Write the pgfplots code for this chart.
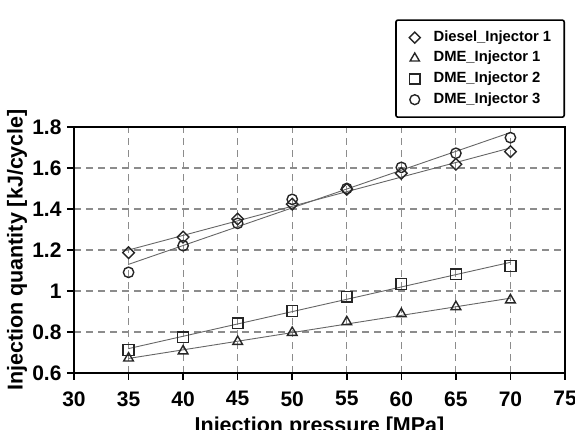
\documentclass[border=0pt]{standalone}
\usepackage{pgfplots}
\pgfplotsset{compat=1.18}
\usepackage{fontspec}
\setmainfont{Liberation Sans}
\begin{document}
\begin{tikzpicture}[x=1pt,y=1pt]
\useasboundingbox (0,0) rectangle (575,430);
\begin{axis}[
  at={(74pt,57pt)}, anchor=south west,
  scale only axis, width=491pt, height=246pt,
  xmin=30, xmax=75, ymin=0.6, ymax=1.8,
  xtick={30,35,40,45,50,55,60,65,70,75},
  ytick={0.6,0.8,1,1.2,1.4,1.6,1.8},
  xtick pos=bottom, ytick pos=left,
  tick align=outside, major tick length=7pt,
  tick style={line width=1.5pt, black},
  axis line style={line width=2.4pt, black},
  grid=major,
  major grid style={black!45, dash pattern=on 7pt off 5pt, line width=1.2pt},
  /pgf/number format/assume math mode=true,
  ticklabel style={font=\fontsize{21}{24}\selectfont\bfseries},
  xticklabel style={yshift=-8pt},
  yticklabel style={xshift=-2pt},
  xlabel={Injection pressure [MPa]},
  ylabel={Injection quantity [kJ/cycle]},
  xlabel style={at={(rel axis cs:0.5,0)}, anchor=north, inner sep=0pt, yshift=-44pt, font=\fontsize{21.5}{24}\selectfont\bfseries},
  ylabel style={at={(rel axis cs:0,0.5)}, anchor=center, inner sep=0pt, yshift=57pt, font=\fontsize{21.5}{24}\selectfont\bfseries},
  legend cell align=left,
  legend style={at={(rel axis cs:1,1)}, anchor=south east, yshift=9pt,
    draw=black, line width=1.6pt, rounded corners=2pt,
    font=\fontsize{14.8}{16}\selectfont\bfseries,
    inner xsep=11pt, inner ysep=8pt, row sep=1.7pt, column sep=9pt,
    nodes={inner sep=2pt, text height=11pt, text depth=4pt}},
  lgd/.style={legend image code/.code={\path (0pt,-5pt) (14pt,5pt); \draw[##1, every mark/.append style={scale=0.95}] plot coordinates {(7pt,0pt)};}},
]
% fit lines
\addplot[forget plot, black!60, line width=0.9pt] coordinates {(35,1.200) (70,1.698)};
\addplot[forget plot, black!60, line width=0.9pt] coordinates {(35,0.671) (70,0.965)};
\addplot[forget plot, black!60, line width=0.9pt] coordinates {(35,0.719) (70,1.140)};
\addplot[forget plot, black!60, line width=0.9pt] coordinates {(35,1.130) (70,1.773)};
% data
\addplot[only marks, lgd, mark=square, mark size=4.1pt, mark options={rotate=45, draw=black!85, line width=1.4pt}]
  coordinates {(35,1.187) (40,1.263) (45,1.351) (50,1.424) (55,1.496) (60,1.574) (65,1.618) (70,1.680)};
\addlegendentry{Diesel\_Injector 1}
\addplot[only marks, lgd, mark=triangle, mark size=5.6pt, mark options={draw=black!85, line width=1.4pt}]
  coordinates {(35,0.672) (40,0.707) (45,0.753) (50,0.797) (55,0.849) (60,0.888) (65,0.923) (70,0.956)};
\addlegendentry{DME\_Injector 1}
\addplot[only marks, lgd, mark=square, mark size=5.4pt, mark options={draw=black!85, line width=1.4pt}]
  coordinates {(35,0.712) (40,0.774) (45,0.842) (50,0.902) (55,0.972) (60,1.034) (65,1.081) (70,1.122)};
\addlegendentry{DME\_Injector 2}
\addplot[only marks, lgd, mark=o, mark size=5.2pt, mark options={draw=black!85, line width=1.4pt}]
  coordinates {(35,1.091) (40,1.221) (45,1.330) (50,1.447) (55,1.500) (60,1.603) (65,1.672) (70,1.748)};
\addlegendentry{DME\_Injector 3}
\end{axis}
\end{tikzpicture}
\end{document}
